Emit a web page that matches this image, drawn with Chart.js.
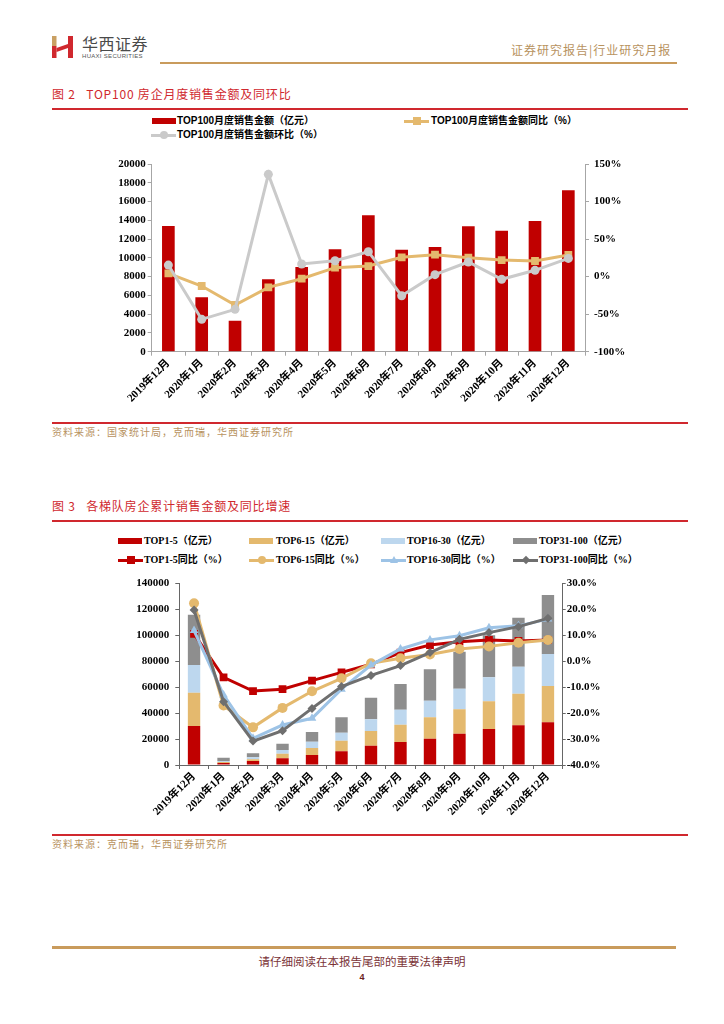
<!DOCTYPE html>
<html>
<head>
<meta charset="utf-8">
<script src="https://cdn.jsdelivr.net/npm/chart.js@4.4.0/dist/chart.umd.min.js"></script>
<style>
  body { margin: 0; background: #fff; }
  #page { position: relative; width: 724px; height: 1024px; overflow: hidden; background: #fff; font-family: "Noto Sans CJK SC", sans-serif; }
  .abs { position: absolute; }
  .hline { position: absolute; height: 2px; }
  .title { position: absolute; color: #D0282E; font-size: 12px; letter-spacing: 0.8px; white-space: nowrap; line-height: 14px; }
  .src { position: absolute; color: #B8935F; font-size: 10px; letter-spacing: 1px; white-space: nowrap; line-height: 12px; }
  .lg { position: absolute; font-size: 10px; font-weight: bold; white-space: nowrap; line-height: 12px; color: #000; }
  .lg1 { font-family: "Liberation Sans", "Noto Sans CJK SC", sans-serif; }
  .lg2 { font-family: "Liberation Serif", "Noto Sans CJK SC", serif; }
  .sym { position: absolute; }
  canvas { position: absolute; }
</style>
</head>
<body>
<div id="page">
  <!-- header -->
  <svg class="abs" style="left:52px;top:35px" width="22" height="24" viewBox="0 0 22 24">
    <rect x="0" y="1" width="4.5" height="10" fill="#C9A063"/>
    <rect x="0" y="11" width="4.5" height="12" fill="#D0282E"/>
    <polygon points="4.5,13 16,9 16,13 4.5,17" fill="#D0282E"/>
    <rect x="16" y="1" width="5" height="22" fill="#D0282E"/>
  </svg>
  <div class="abs" style="left:82px;top:34px;font-size:16px;color:#4a4a4a;letter-spacing:0.5px;line-height:18px">华西证券</div>
  <div class="abs" style="left:82px;top:53px;font-size:6px;color:#555;letter-spacing:0.3px;line-height:7px;font-family:'Liberation Sans',sans-serif">HUAXI SECURITIES</div>
  <div class="abs" style="left:511px;top:43px;font-size:12px;color:#B8935F;letter-spacing:1px;line-height:14px;white-space:nowrap">证券研究报告|行业研究月报</div>
  <div class="hline" style="left:160px;top:62px;width:517px;background:#C99B5C"></div>

  <!-- figure 2 -->
  <div class="title" style="left:52px;top:87px">图 2&nbsp;&nbsp;&nbsp;TOP100 房企月度销售金额及同环比</div>
  <div class="hline" style="left:52px;top:108px;width:636px;background:#D0282E"></div>
  <div class="hline" style="left:52px;top:422px;width:636px;background:#D0282E"></div>
  <div class="src" style="left:52px;top:426px">资料来源：国家统计局，克而瑞，华西证券研究所</div>
  <div id="legend1"></div>
  <canvas id="chart1" width="600" height="280" style="left:60px;top:150px"></canvas>

  <!-- figure 3 -->
  <div class="title" style="left:52px;top:499px">图 3&nbsp;&nbsp;&nbsp;各梯队房企累计销售金额及同比增速</div>
  <div class="hline" style="left:52px;top:520px;width:636px;background:#D0282E"></div>
  <div class="hline" style="left:52px;top:834px;width:636px;background:#D0282E"></div>
  <div class="src" style="left:52px;top:838px">资料来源：克而瑞，华西证券研究所</div>
  <div id="legend2"></div>
  <canvas id="chart2" width="600" height="270" style="left:60px;top:570px"></canvas>

  <!-- footer -->
  <div class="abs" style="left:52px;top:946px;width:624px;height:3px;background:#C99B5C"></div>
  <div class="abs" style="left:0;top:954px;width:724px;text-align:center;font-size:11.5px;color:#7A3236;line-height:14px">请仔细阅读在本报告尾部的重要法律声明</div>
  <div class="abs" style="left:0;top:971px;width:724px;text-align:center;font-size:9px;font-weight:bold;color:#6B1E22;line-height:12px;font-family:'Liberation Sans',sans-serif">4</div>
</div>

<script>
// categories
const months = ['2019年12月', '2020年1月', '2020年2月', '2020年3月', '2020年4月', '2020年5月', '2020年6月',
    '2020年7月', '2020年8月', '2020年9月', '2020年10月', '2020年11月', '2020年12月'];

// figure 2: TOP100 monthly sales (亿元) and yoy / mom (%)
const top100Sales = [13400, 5790, 3300, 7710, 9020, 10910, 14530, 10870, 11160, 13360, 12900, 13930, 17190];
const top100Yoy = [4.3, -12.5, -37.8, -14.3, -2.8, 11.9, 14.1, 25.7, 29.2, 25.2, 22.1, 20.8, 28.8];
const top100Mom = [15.4, -56.9, -43.6, 136.2, 16.8, 21.2, 33.2, -25.5, 2.6, 19.5, -3.6, 8.4, 24.3];

// figure 3: cumulative sales by tier (亿元)
const top1to5 = [30060, 1540, 3080, 5140, 7710, 10530, 14900, 17730, 20300, 24150, 27750, 30570, 32880];
const top6to15 = [25690, 770, 1290, 3590, 5390, 8220, 11300, 13360, 16440, 18750, 21320, 24410, 28010];
const top16to30 = [21320, 770, 1540, 2830, 4880, 6170, 9000, 11560, 12840, 15930, 18490, 20810, 24660];
const top31to100 = [38790, 2570, 3090, 4880, 7450, 11820, 16700, 19780, 24150, 28520, 32380, 37760, 45470];

// figure 3: cumulative yoy by tier (%)
const top1to5Yoy = [10.5, -6.2, -11.5, -10.8, -7.5, -4.3, -1.2, 3.3, 6.2, 7.5, 8.2, 7.8, 8.2];
const top6to15Yoy = [22.3, -17.1, -25.5, -18.0, -11.6, -6.6, -0.8, 1.1, 2.6, 4.7, 5.7, 7.1, 8.2];
const top16to30Yoy = [11.8, -13.0, -29.7, -24.6, -22.0, -10.8, -1.5, 4.7, 8.2, 9.8, 12.9, 13.6, 16.2];
const top31to100Yoy = [19.7, -15.6, -30.8, -26.8, -18.2, -9.8, -5.5, -1.7, 3.3, 8.4, 11.0, 13.3, 16.5];

const RED = '#C00000';
const GOLD = '#E4B96E';
const LGRAY = '#CACACA';
const LBLUE = '#BDD7EE';
const BLUE_LINE = '#9DC3E6';
const GRAY_BAR = '#8E8E8E';
const GRAY_LINE = '#6F6F6F';

Chart.defaults.animation = false;
Chart.defaults.devicePixelRatio = 1;

const tickFont = { family: '"Liberation Serif", "Noto Sans CJK SC", serif', size: 11, weight: 'bold' };

// legend helper (html)
function addLegend(containerId, items, cls) {
    const box = document.getElementById(containerId);
    items.forEach(it => {
        const sym = document.createElement('div');
        sym.className = 'sym';
        if (it.kind === 'bar') {
            sym.style.cssText = `left:${it.x}px;top:${it.y - 3}px;width:24px;height:6px;background:${it.color}`;
            box.appendChild(sym);
        } else {
            sym.style.cssText = `left:${it.x}px;top:${it.y - 1.5}px;width:25px;height:3px;background:${it.color}`;
            box.appendChild(sym);
            const m = document.createElement('div');
            m.className = 'sym';
            let css = `left:${it.x + 12.5 - 4}px;top:${it.y - 4}px;width:8px;height:8px;background:${it.color};`;
            if (it.marker === 'circle') css += 'border-radius:50%;';
            if (it.marker === 'rectRot') css = `left:${it.x + 12.5 - 3}px;top:${it.y - 3}px;width:6px;height:6px;background:${it.color};transform:rotate(45deg);`;
            if (it.marker === 'triangle') css = `left:${it.x + 12.5 - 4}px;top:${it.y - 4}px;width:0;height:0;border-left:4px solid transparent;border-right:4px solid transparent;border-bottom:7px solid ${it.color};`;
            m.style.cssText = css;
            box.appendChild(m);
        }
        const t = document.createElement('div');
        t.className = 'lg ' + cls;
        t.style.left = it.tx + 'px';
        t.style.top = (it.y - 6) + 'px';
        t.textContent = it.text;
        box.appendChild(t);
    });
}

addLegend('legend1', [
    { kind: 'bar', color: RED, x: 152, y: 121, tx: 177, text: 'TOP100月度销售金额（亿元）' },
    { kind: 'line', marker: 'rect', color: GOLD, x: 404, y: 121, tx: 431, text: 'TOP100月度销售金额同比（%）' },
    { kind: 'line', marker: 'circle', color: LGRAY, x: 151, y: 135, tx: 177, text: 'TOP100月度销售金额环比（%）' }
], 'lg1');

addLegend('legend2', [
    { kind: 'bar', color: RED, x: 118, y: 541, tx: 144, text: 'TOP1-5（亿元）' },
    { kind: 'bar', color: GOLD, x: 249, y: 541, tx: 276, text: 'TOP6-15（亿元）' },
    { kind: 'bar', color: LBLUE, x: 381, y: 541, tx: 407, text: 'TOP16-30（亿元）' },
    { kind: 'bar', color: GRAY_BAR, x: 513, y: 541, tx: 539, text: 'TOP31-100（亿元）' },
    { kind: 'line', marker: 'rect', color: RED, x: 118, y: 560, tx: 144, text: 'TOP1-5同比（%）' },
    { kind: 'line', marker: 'circle', color: GOLD, x: 249, y: 560, tx: 276, text: 'TOP6-15同比（%）' },
    { kind: 'line', marker: 'triangle', color: BLUE_LINE, x: 381, y: 560, tx: 407, text: 'TOP16-30同比（%）' },
    { kind: 'line', marker: 'rectRot', color: GRAY_LINE, x: 513, y: 560, tx: 539, text: 'TOP31-100同比（%）' }
], 'lg2');

function axisGrid(color, len) {
    return { display: true, drawOnChartArea: false, drawTicks: true, tickLength: len, color: color };
}

// figure 2
new Chart(document.getElementById('chart1').getContext('2d'), {
    data: {
        labels: months,
        datasets: [{
            type: 'bar',
            label: 'TOP100月度销售金额（亿元）',
            data: top100Sales,
            backgroundColor: RED,
            yAxisID: 'y',
            categoryPercentage: 1,
            barPercentage: 0.38,
            order: 3
        }, {
            type: 'line',
            label: 'TOP100月度销售金额同比（%）',
            data: top100Yoy,
            yAxisID: 'y1',
            borderColor: GOLD,
            backgroundColor: GOLD,
            borderWidth: 3,
            tension: 0,
            pointStyle: 'rect',
            pointRadius: 5.5,
            pointBorderWidth: 0,
            order: 2
        }, {
            type: 'line',
            label: 'TOP100月度销售金额环比（%）',
            data: top100Mom,
            yAxisID: 'y1',
            borderColor: LGRAY,
            backgroundColor: LGRAY,
            borderWidth: 3,
            tension: 0,
            pointStyle: 'circle',
            pointRadius: 4.5,
            pointBorderWidth: 0,
            order: 1
        }]
    },
    options: {
        responsive: false,
        layout: { padding: { top: 14, left: 0, right: 0, bottom: 0 } },
        plugins: { legend: { display: false }, tooltip: { enabled: false } },
        scales: {
            x: {
                offset: true,
                grid: Object.assign(axisGrid('#A6A6A6', 4), { offset: true }),
                border: { color: '#A6A6A6', width: 1 },
                ticks: { autoSkip: false, maxRotation: 45, minRotation: 45, font: tickFont, color: '#000', padding: 1 },
                afterFit: s => { s.height = 78.3; }
            },
            y: {
                position: 'left',
                min: 0, max: 20000,
                grid: axisGrid('#A6A6A6', 4),
                border: { color: '#A6A6A6', width: 1 },
                ticks: { stepSize: 2000, font: tickFont, color: '#000', padding: 2, callback: v => String(v) },
                afterFit: s => { s.width = 91.7; }
            },
            y1: {
                position: 'right',
                min: -100, max: 150,
                grid: axisGrid('#A6A6A6', 4),
                border: { color: '#A6A6A6', width: 1 },
                ticks: { stepSize: 50, font: tickFont, color: '#000', padding: 5, callback: v => v + '%' },
                afterFit: s => { s.width = 75; }
            }
        }
    }
});

// figure 3
function tierBar(label, data, color) {
    return { type: 'bar', label, data, backgroundColor: color, yAxisID: 'y', stack: 'tier',
        categoryPercentage: 1, barPercentage: 0.42, order: 10 };
}
function tierLine(label, data, color, style, radius, order) {
    return { type: 'line', label, data, yAxisID: 'y1', borderColor: color, backgroundColor: color,
        borderWidth: 3, tension: 0, pointStyle: style, pointRadius: radius, pointBorderWidth: 0, order };
}

new Chart(document.getElementById('chart2').getContext('2d'), {
    data: {
        labels: months,
        datasets: [
            tierBar('TOP1-5（亿元）', top1to5, RED),
            tierBar('TOP6-15（亿元）', top6to15, GOLD),
            tierBar('TOP16-30（亿元）', top16to30, LBLUE),
            tierBar('TOP31-100（亿元）', top31to100, GRAY_BAR),
            tierLine('TOP1-5同比（%）', top1to5Yoy, RED, 'rect', 5.5, 4),
            tierLine('TOP6-15同比（%）', top6to15Yoy, GOLD, 'circle', 5, 3),
            tierLine('TOP16-30同比（%）', top16to30Yoy, BLUE_LINE, 'triangle', 5, 2),
            tierLine('TOP31-100同比（%）', top31to100Yoy, GRAY_LINE, 'rectRot', 4.5, 1)
        ]
    },
    options: {
        responsive: false,
        layout: { padding: { top: 13.3, left: 0, right: 0, bottom: 0 } },
        plugins: { legend: { display: false }, tooltip: { enabled: false } },
        scales: {
            x: {
                stacked: true,
                offset: true,
                grid: Object.assign(axisGrid('#666', 4), { offset: true }),
                border: { color: '#666', width: 1 },
                ticks: { autoSkip: false, maxRotation: 45, minRotation: 45, font: tickFont, color: '#000', padding: 1 },
                afterFit: s => { s.height = 75; }
            },
            y: {
                stacked: true,
                position: 'left',
                min: 0, max: 140000,
                grid: axisGrid('#666', 4),
                border: { color: '#666', width: 1 },
                ticks: { stepSize: 20000, font: tickFont, color: '#000', padding: 6, callback: v => String(v) },
                afterFit: s => { s.width = 119.3; }
            },
            y1: {
                position: 'right',
                min: -40, max: 30,
                grid: axisGrid('#666', 3),
                border: { color: '#666', width: 1 },
                ticks: { stepSize: 10, font: tickFont, color: '#000', padding: 1, callback: v => v.toFixed(1) + '%' },
                afterFit: s => { s.width = 97.3; }
            }
        }
    }
});
</script>
</body>
</html>
